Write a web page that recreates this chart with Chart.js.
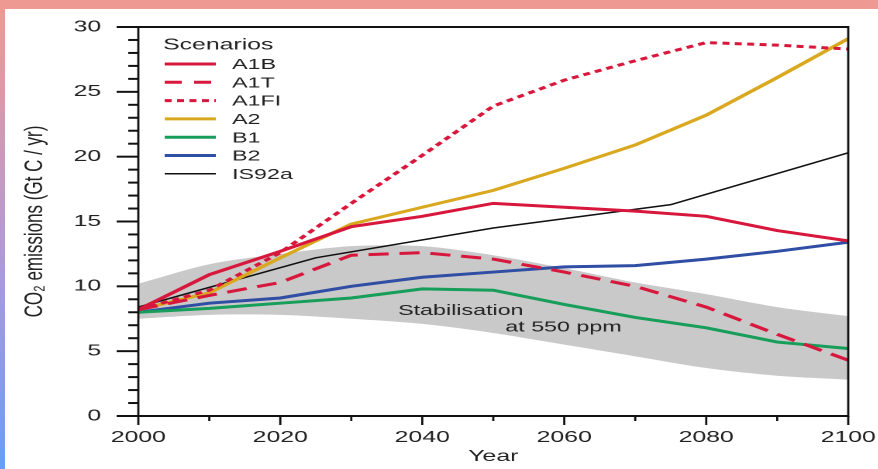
<!DOCTYPE html>
<html>
<head>
<meta charset="utf-8">
<script src="https://cdn.jsdelivr.net/npm/chart.js@4/dist/chart.umd.min.js"></script>
<style>
  html, body { margin: 0; padding: 0; background: #fff; }
  body { width: 878px; height: 469px; position: relative; overflow: hidden; }
  #topBar { position: absolute; left: 0; top: 0; width: 878px; height: 9px; background: #ee9a93; }
  #leftBar { position: absolute; left: 0; top: 9px; width: 5px; height: 460px;
    background: linear-gradient(to bottom, #ec9a92, #b69ad2 50%, #6b9cf8); }
  /* the reference picture is stretched sideways, so the chart is drawn narrow and scaled */
  #wrap { position: absolute; left: 5px; top: 9px; width: 563px; height: 460px;
    transform: scaleX(1.55); transform-origin: 0 0; }
  #co2Chart { display: block; width: 563px; height: 460px; }
</style>
</head>
<body>
<div id="topBar"></div>
<div id="leftBar"></div>
<div id="wrap"><canvas id="co2Chart" width="563" height="460"></canvas></div>
<script>
// Scenario data (Gt C / yr)
const years = [2000, 2010, 2020, 2030, 2040, 2050, 2060, 2070, 2080, 2090, 2100];
const a1b  = [8.2, 10.9, 12.7, 14.6, 15.4, 16.4, 16.1, 15.8, 15.4, 14.3, 13.5];
const a1t  = [8.2, 9.3, 10.3, 12.4, 12.6, 12.1, 11.1, 10.0, 8.4, 6.3, 4.3];
const a1fi = [8.2, 9.7, 12.6, 16.4, 20.1, 23.9, 25.9, 27.4, 28.8, 28.6, 28.3];
const a2   = [8.2, 9.5, 12.2, 14.8, 16.1, 17.4, 19.1, 20.9, 23.2, 26.1, 29.1];
const b1   = [8.0, 8.3, 8.7, 9.1, 9.8, 9.7, 8.6, 7.6, 6.8, 5.7, 5.2];
const b2   = [8.0, 8.7, 9.1, 10.0, 10.7, 11.1, 11.5, 11.6, 12.1, 12.7, 13.4];
const is92aYears = [2000, 2025, 2050, 2075, 2100];
const is92a = [8.4, 12.2, 14.5, 16.3, 20.3];
// Stabilisation at 550 ppm range
const bandUpper = [10.2, 11.7, 12.5, 13.1, 13.1, 12.4, 11.4, 10.3, 9.4, 8.4, 7.7];
const bandLower = [7.5, 7.8, 7.8, 7.5, 7.1, 6.4, 5.5, 4.6, 3.7, 3.1, 2.8];
const yTicks = [0, 5, 10, 15, 20, 25, 30];
const xTicks = [2000, 2020, 2040, 2060, 2080, 2100];

const FONT = "'Liberation Sans', Arial, Helvetica, sans-serif";
const pts = (xs, ys) => xs.map((x, i) => ({ x: x, y: ys[i] }));

const series = (label, values, color, extra) => Object.assign({
  label: label,
  data: pts(years, values),
  borderColor: color,
  borderWidth: 3,
  pointRadius: 0,
  fill: false,
  tension: 0,
  order: 1,
  inLegend: true
}, extra || {});

const datasets = [
  series('A1B', a1b, '#d8173c'),
  series('A1T', a1t, '#d8173c', { borderDash: [13, 7] }),
  series('A1FI', a1fi, '#d8173c', { borderDash: [4.5, 3.5] }),
  series('A2', a2, '#d9a81e'),
  series('B1', b1, '#179e5a'),
  series('B2', b2, '#2f4ea4'),
  series('IS92a', is92a, '#111111', { data: pts(is92aYears, is92a), borderWidth: 1.5 }),
  { label: 'band upper', data: pts(years, bandUpper), borderWidth: 0, pointRadius: 0,
    backgroundColor: '#c9c9c9', fill: '+1', order: 5, tension: 0.3 },
  { label: 'band lower', data: pts(years, bandLower), borderWidth: 0, pointRadius: 0,
    fill: false, order: 5, tension: 0.3 }
];

// tick marks, frame, legend and band text
const decorations = {
  id: 'decorations',
  afterDraw(chart) {
    const ctx = chart.ctx;
    const a = chart.chartArea;
    const xs = chart.scales.x, ys = chart.scales.y;
    ctx.save();
    ctx.strokeStyle = '#111';

    // y ticks: major every 5, minor every 1, pointing out
    ctx.lineWidth = 2;
    for (let v = 0; v <= 30; v++) {
      const py = ys.getPixelForValue(v);
      const len = v % 5 === 0 ? 14 : 6.5;
      ctx.beginPath(); ctx.moveTo(a.left - len, py); ctx.lineTo(a.left, py); ctx.stroke();
    }
    // x ticks: major every 20, minor every 10, pointing down
    ctx.lineWidth = 1.4;
    for (let yr = 2000; yr <= 2100; yr += 10) {
      const px = xs.getPixelForValue(yr);
      const len = yr % 20 === 0 ? 9 : 5;
      ctx.beginPath(); ctx.moveTo(px, a.bottom); ctx.lineTo(px, a.bottom + len); ctx.stroke();
    }
    // frame
    ctx.lineWidth = 2;
    ctx.beginPath();
    ctx.moveTo(a.left - 14, a.bottom); ctx.lineTo(a.right, a.bottom);
    ctx.moveTo(a.left, a.top); ctx.lineTo(a.right, a.top);
    ctx.stroke();
    ctx.lineWidth = 1.4;
    ctx.beginPath();
    ctx.moveTo(a.left, a.top - 1); ctx.lineTo(a.left, a.bottom + 1);
    ctx.moveTo(a.right, a.top - 1); ctx.lineTo(a.right, a.bottom + 1);
    ctx.stroke();

    // legend
    ctx.fillStyle = '#222';
    ctx.textBaseline = 'middle';
    ctx.textAlign = 'left';
    ctx.font = '16px ' + FONT;
    ctx.fillText('Scenarios', a.left + 16, a.top + 18);
    ctx.font = '15px ' + FONT;
    let row = 0;
    chart.data.datasets.forEach(ds => {
      if (!ds.inLegend) return;
      const cy = a.top + 37 + row * 18.3;
      ctx.save();
      ctx.strokeStyle = ds.borderColor;
      ctx.lineWidth = ds.borderWidth;
      ctx.setLineDash(ds.label === 'A1T' ? [11, 8] : (ds.borderDash || []));
      ctx.beginPath(); ctx.moveTo(a.left + 17, cy); ctx.lineTo(a.left + 50, cy); ctx.stroke();
      ctx.restore();
      ctx.fillText(ds.label, a.left + 60.5, cy + 1);
      row++;
    });

    // band annotation
    ctx.font = '15px ' + FONT;
    ctx.fillText('Stabilisation', xs.getPixelForValue(2036.6), ys.getPixelForValue(8.1));
    ctx.fillText('at 550 ppm', xs.getPixelForValue(2051.7), ys.getPixelForValue(6.85));
    ctx.restore();
  }
};

// invisible tick marks only keep the labels away from the axes
const hiddenTicks = (len) => ({ display: true, drawOnChartArea: false, drawTicks: true, tickLength: len, tickColor: 'rgba(0,0,0,0)' });

new Chart(document.getElementById('co2Chart'), {
  type: 'line',
  data: { datasets: datasets },
  options: {
    responsive: false,
    animation: false,
    devicePixelRatio: 2,
    layout: { padding: { top: 18, right: 19, left: 0, bottom: 0 } },
    plugins: {
      legend: { display: false },
      tooltip: { enabled: false },
      filler: { drawTime: 'beforeDatasetsDraw' }
    },
    scales: {
      x: {
        type: 'linear',
        min: 2000,
        max: 2100,
        afterBuildTicks: s => { s.ticks = xTicks.map(v => ({ value: v })); },
        afterFit: s => { s.height = 53; },
        grid: hiddenTicks(12),
        border: { display: false },
        ticks: {
          color: '#222',
          font: { family: FONT, size: 16 },
          padding: 0,
          maxRotation: 0,
          callback: v => String(v)
        },
        title: { display: true, text: 'Year', color: '#222', font: { family: FONT, size: 16 }, padding: { top: 0, bottom: 3 } }
      },
      y: {
        min: 0,
        max: 30,
        afterBuildTicks: s => { s.ticks = yTicks.map(v => ({ value: v })); },
        afterFit: s => { s.width = 86; },
        grid: hiddenTicks(24),
        border: { display: false },
        ticks: {
          color: '#222',
          font: { family: FONT, size: 16 },
          padding: 0
        },
        title: { display: true, text: 'CO₂ emissions (Gt C / yr)', color: '#222', font: { family: FONT, size: 17 }, padding: { top: 9, bottom: 0 } }
      }
    }
  },
  plugins: [decorations]
});
</script>
</body>
</html>
